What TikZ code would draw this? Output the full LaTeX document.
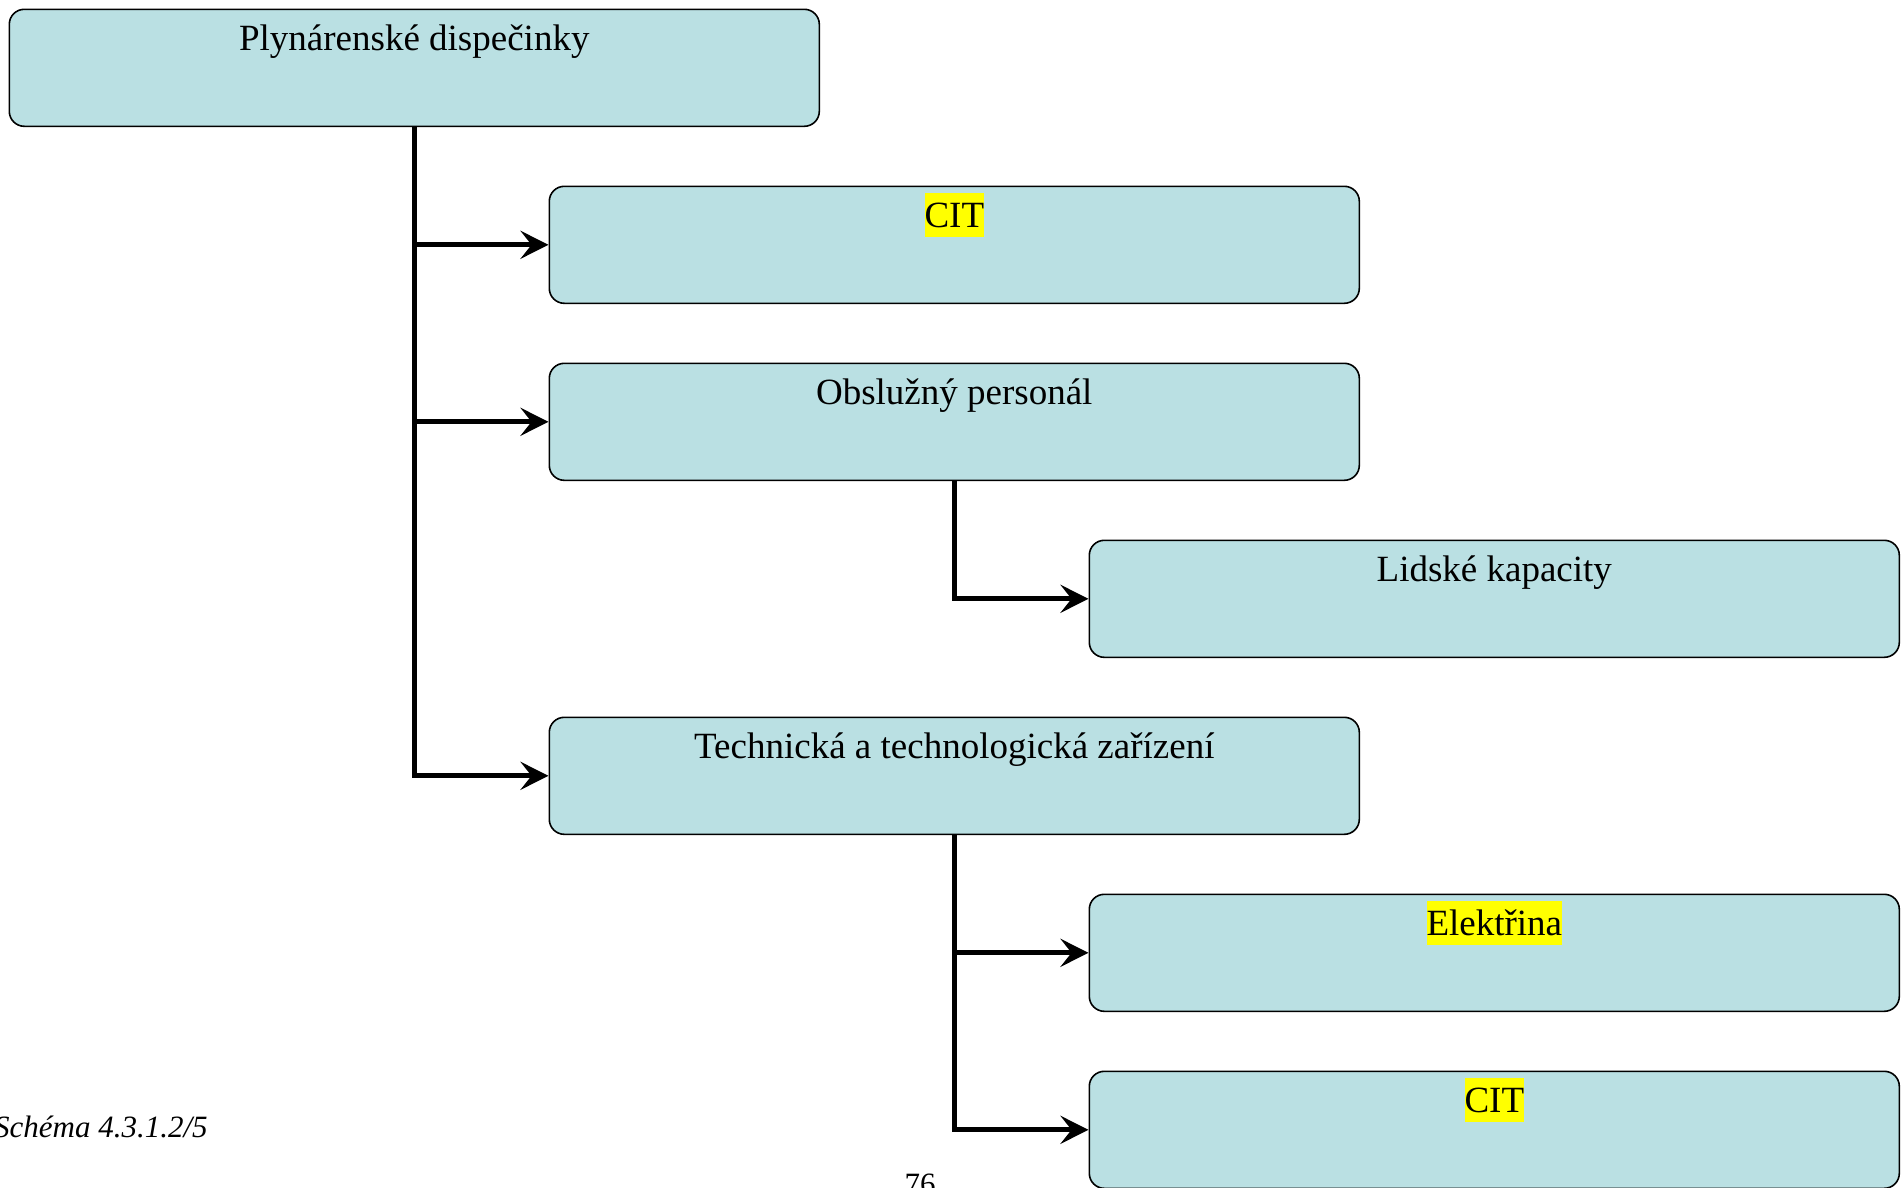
\documentclass[tikz,border=0pt]{standalone}
\usepackage{fontspec}
\setmainfont{Liberation Serif}
\usetikzlibrary{arrows.meta}
\definecolor{boxfill}{RGB}{186,224,227}
\definecolor{marker}{RGB}{255,255,0}
% yellow text highlight, tight to the line's ascender/descender
\newcommand{\hilite}[1]{{\setlength{\fboxsep}{0pt}\colorbox{marker}{\rule[-10pt]{0pt}{44pt}#1}}}

\begin{document}
\begin{tikzpicture}[x=1pt,y=-1pt,
  card/.style={draw=black, line width=1.6pt, fill=boxfill, rounded corners=15pt,
    minimum width=810pt, minimum height=117pt, inner xsep=0pt, inner ysep=0pt,
    text height=41pt, text depth=76pt, anchor=north west,
    font=\fontsize{37}{44}\selectfont},
  link/.style={line width=4.8pt, line join=miter,
    -{Stealth[length=28pt,width=28pt,inset=11pt]}},
]
\clip (0,0) rectangle (1903,1187);

% boxes
\node[card] (root)   at (8.5,8.5)      {Plynárenské dispečinky};
\node[card] (cit1)   at (548.5,185.5)  {\hilite{CIT}};
\node[card] (staff)  at (548.5,362.5)  {Obslužný personál};
\node[card] (people) at (1088.5,539.5) {Lidské kapacity};
\node[card] (tech)   at (548.5,716.5)  {Technická a technologická zařízení};
\node[card] (power)  at (1088.5,893.5) {\hilite{Elektřina}};
\node[card] (cit2)   at (1088.5,1070.5){\hilite{CIT}};

% connectors
\draw[link] (root.south)  |- (cit1.west);
\draw[link] (root.south)  |- (staff.west);
\draw[link] (root.south)  |- (tech.west);
\draw[link] (staff.south) |- (people.west);
\draw[link] (tech.south)  |- (power.west);
\draw[link] (tech.south)  |- (cit2.west);

% caption and page number
\node[anchor=base west, inner xsep=0pt, font=\fontsize{31}{37}\selectfont\itshape] (caption) at (-6,1137) {Schéma 4.3.1.2/5};
\node[anchor=base, font=\fontsize{31}{37}\selectfont] (pageno) at (920,1194) {76};
\end{tikzpicture}
\end{document}
